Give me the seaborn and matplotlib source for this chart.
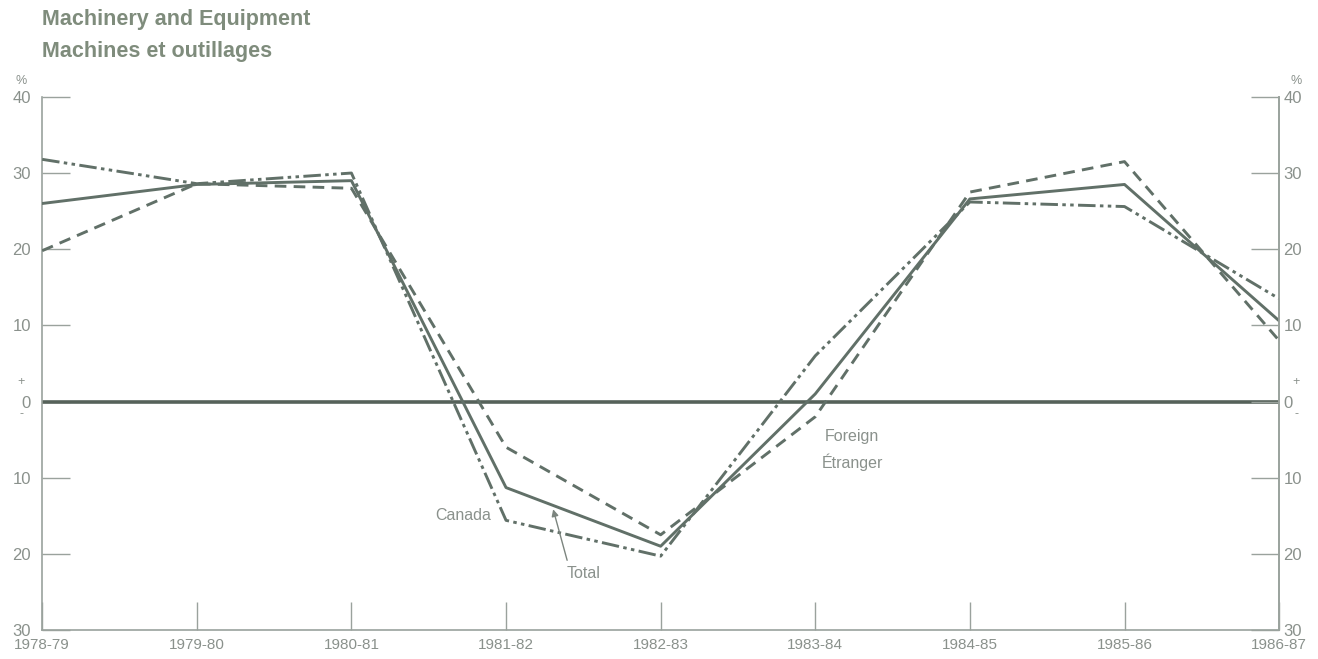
import pandas as pd
import matplotlib.pyplot as plt
import matplotlib.transforms as mtransforms
import seaborn as sns

years = ["1978-79", "1979-80", "1980-81", "1981-82", "1982-83",
         "1983-84", "1984-85", "1985-86", "1986-87"]
total = [26.0, 28.5, 29.0, -11.3, -19.0, 1.0, 26.6, 28.5, 10.6]
canada = [31.8, 28.6, 30.0, -15.6, -20.3, 6.0, 26.2, 25.6, 13.5]
foreign = [19.8, 28.6, 28.0, -6.0, -17.5, -2.0, 27.5, 31.5, 8.0]
y_ticks = [-30, -20, -10, 0, 10, 20, 30, 40]

LINE = "#617068"
TEXT = "#8a918c"
TITLE = "#7f8c7c"
AXIS = "#9aa29d"


def main():
    df = pd.DataFrame({"pos": list(range(len(years))) * 3,
                       "value": total + canada + foreign,
                       "series": ["Total"] * 9 + ["Canada"] * 9 + ["Foreign"] * 9})

    sns.set_style("white")
    plt.rcParams["font.family"] = ["Liberation Sans", "DejaVu Sans"]

    fig = plt.figure(figsize=(13.18, 6.59), dpi=100)
    ax = fig.add_axes([0.032, 0.044, 0.9385, 0.809])

    ax.axhline(0, color="#56625a", lw=2.6, zorder=1)
    sns.lineplot(data=df, x="pos", y="value", hue="series", style="series",
                 palette={"Total": LINE, "Canada": LINE, "Foreign": LINE},
                 dashes={"Total": "", "Canada": (6, 1.5, 1.2, 1.5, 1.2, 1.5),
                         "Foreign": (4, 2.5)},
                 linewidth=2.1, legend=False, ax=ax, zorder=3)

    ax.set_xlim(0, 8)
    ax.set_ylim(-30, 40)
    ax.set_xlabel("")
    ax.set_ylabel("")
    ax.spines["top"].set_visible(False)
    for s in ["left", "right", "bottom"]:
        ax.spines[s].set_color(AXIS)
        ax.spines[s].set_linewidth(1.2)

    ylabels = [str(abs(v)) for v in y_ticks]
    ax.set_yticks(y_ticks)
    ax.set_yticklabels(ylabels)
    ax.tick_params(axis="y", direction="in", length=20, width=1, color=AXIS,
                   labelcolor=TEXT, labelsize=12, left=True, right=False, pad=8)

    # right-hand scale
    ax2 = ax.twinx()
    ax2.set_ylim(-30, 40)
    ax2.set_yticks(y_ticks)
    ax2.set_yticklabels(ylabels)
    ax2.tick_params(axis="y", direction="in", length=20, width=1, color=AXIS,
                    labelcolor=TEXT, labelsize=12, pad=3)
    for s in ["top", "left", "bottom"]:
        ax2.spines[s].set_visible(False)
    ax2.spines["right"].set_color(AXIS)
    ax2.spines["right"].set_linewidth(1.2)

    ax.set_xticks(range(len(years)))
    ax.set_xticklabels(years)
    ax.tick_params(axis="x", direction="in", length=20, width=1, color=AXIS,
                   labelcolor=TEXT, labelsize=11, bottom=True, pad=6)

    blend = mtransforms.blended_transform_factory(ax.transAxes, ax.transData)
    for xs in [-0.017, 1.014]:
        ax.text(xs, 1.03, "%", transform=ax.transAxes, ha="center", va="center",
                color=TEXT, fontsize=9)
        ax.text(xs, 2.6, "+", transform=blend, ha="center", va="center",
                color=TEXT, fontsize=9)
        ax.text(xs, -1.7, "-", transform=blend, ha="center", va="center",
                color=TEXT, fontsize=9)

    ax.text(2.72, -15.0, "Canada", color=TEXT, fontsize=11.5, ha="center", va="center")
    ax.text(3.5, -22.6, "Total", color=TEXT, fontsize=11.5, ha="center", va="center")
    ax.annotate("", xy=(3.30, -13.8), xytext=(3.40, -21.2),
                arrowprops=dict(arrowstyle="-|>", color="#7c857f", lw=1,
                                mutation_scale=10))
    ax.text(5.24, -4.6, "Foreign", color=TEXT, fontsize=11.5, ha="center", va="center")
    ax.text(5.24, -8.0, "Étranger", color=TEXT, fontsize=11.5, ha="center", va="center")

    fig.text(0.032, 0.970, "Machinery and Equipment", color=TITLE, fontsize=15.5,
             fontweight="bold", ha="left", va="center")
    fig.text(0.032, 0.922, "Machines et outillages", color=TITLE, fontsize=15.5,
             fontweight="bold", ha="left", va="center")

    fig.savefig("out.png", dpi=100)
    plt.close(fig)


if __name__ == "__main__":
    main()
